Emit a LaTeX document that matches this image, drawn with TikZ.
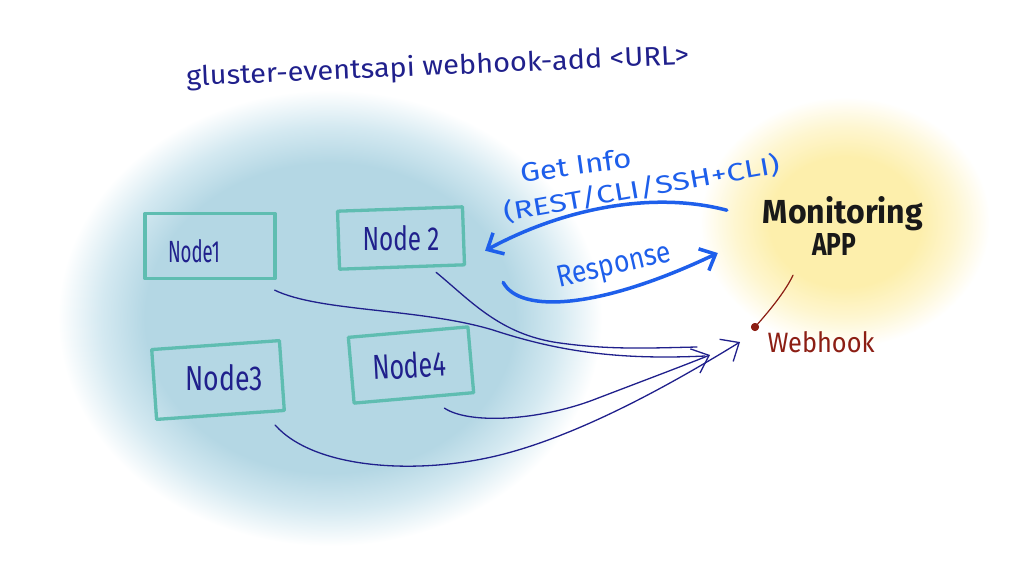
\documentclass[tikz,border=0pt]{standalone}
\usepackage{fontspec}
\setmainfont{Fira Sans}
\usepackage{graphicx}
\usetikzlibrary{arrows.meta}
\definecolor{glowblue}{RGB}{180,215,228}
\definecolor{glowblueb}{RGB}{212,233,241}
\definecolor{glowyellow}{RGB}{253,239,172}
\definecolor{glowyellowb}{RGB}{254,246,208}
\definecolor{tealbox}{RGB}{95,189,177}
\definecolor{navy}{RGB}{32,32,140}
\definecolor{brightblue}{RGB}{30,95,235}
\definecolor{hookred}{RGB}{140,30,20}
\definecolor{ink}{RGB}{25,25,25}
\pgfdeclareradialshading{blueglow}{\pgfpoint{0bp}{0bp}}{color(0bp)=(glowblue); color(17bp)=(glowblue); color(21bp)=(glowblueb); color(25bp)=(white); color(50bp)=(white)}
\pgfdeclareradialshading{yellowglow}{\pgfpoint{0bp}{0bp}}{color(0bp)=(glowyellow); color(13bp)=(glowyellow); color(19bp)=(glowyellowb); color(25bp)=(white); color(50bp)=(white)}
\tikzset{
  box/.style={draw=tealbox, line width=3.3pt, line join=round, inner sep=0pt},
  lbl/.style={anchor=base, inner sep=0pt, text=navy},
  bluetext/.style={anchor=base, inner sep=0pt, text=brightblue},
  wire/.style={draw=navy, line width=1.3pt, line cap=round},
  wirearrow/.style={wire, -{Straight Barb[length=15pt,width=26pt]}},
  bluearrow/.style={draw=brightblue, line width=3.5pt, line cap=round, -{Straight Barb[length=13pt,width=24pt]}},
  hookline/.style={draw=hookred, line width=1.2pt, line cap=round}
}
\begin{document}
\begin{tikzpicture}[x=1pt,y=-1pt]
\useasboundingbox (0,0) rectangle (1024,579);
\fill[white] (0,0) rectangle (1024,579);
% glows
\shade[shading=blueglow] (330,318) ellipse (272 and 228);
\shade[shading=yellowglow] (845,222) ellipse (145 and 125);
% title
\node[lbl, rotate=2.5] (title) at (438,75) {\resizebox{503pt}{21pt}{gluster-eventsapi webhook-add <URL>}};
% node boxes
\node[box, minimum width=130pt, minimum height=65pt] (n1) at (210,246) {};
\node[box, minimum width=125pt, minimum height=58pt, rotate=2] (n2) at (401,238) {};
\node[box, minimum width=128pt, minimum height=70pt, rotate=4] (n3) at (218,380) {};
\node[box, minimum width=120pt, minimum height=66pt, rotate=5] (n4) at (411,365) {};
\node[lbl] (t1) at (194,262) {\resizebox{52pt}{23pt}{Node1}};
\node[lbl] (t2) at (401,250) {\resizebox{77pt}{25pt}{Node 2}};
\node[lbl] (t3) at (224,390) {\resizebox{77pt}{26pt}{Node3}};
\node[lbl, rotate=3] (t4) at (410,378) {\resizebox{74pt}{26pt}{Node4}};
% monitoring app
\node[anchor=base, inner sep=0pt, text=ink] (mon) at (843,223) {\resizebox{160pt}{27pt}{\bfseries Monitoring}};
\node[anchor=base, inner sep=0pt, text=ink] (app) at (834,255) {\resizebox{44pt}{22pt}{\bfseries APP}};
% webhook
\node[circle, fill=hookred, inner sep=0pt, minimum size=8pt] (wh) at (755,327) {};
\node[anchor=base, inner sep=0pt, text=hookred] (whtext) at (821,352) {\resizebox{107pt}{21pt}{Webhook}};
\draw[hookline] (wh.center) .. controls (772,308) and (786,290) .. ([shift={(-41,20)}]app.south);
\node[circle, fill=hookred, inner sep=0pt, minimum size=8pt] at (wh) {};
% blue labels
\node[bluetext, rotate=8] (getinfo) at (577,175) {\resizebox{112pt}{20pt}{Get Info}};
\node[bluetext, rotate=10] (rest) at (643,197) {\resizebox{280pt}{21pt}{(REST/CLI/SSH+CLI)}};
\node[bluetext, rotate=13] (resp) at (616,274) {\resizebox{116pt}{21pt}{Response}};
% blue arrows
\draw[bluearrow] ([shift={(-36,-3)}]mon.west) .. controls (650,190) and (560,210) .. ([shift={(20,15)}]n2.east);
\draw[bluearrow] ([shift={(37,16)}]n2.south east) .. controls (520,314) and (600,309) .. ([shift={(-94,9)}]app.west);
% webhook connectors
\draw[wire] ([shift={(-2,10)}]n1.south east) .. controls (320,312) and (420,308) .. (493,330)
   .. controls (560,352) and (620,360) .. ([shift={(-50,29)}]wh.center);
\draw[wire] ([shift={(-30,6)}]n2.south east) .. controls (470,300) and (500,335) .. (560,343)
   .. controls (610,350) and (650,348) .. ([shift={(-58,20)}]wh.center);
\draw[wirearrow] ([shift={(-31,14)}]n4.south east) .. controls (470,425) and (540,420) .. (593,400)
   .. controls (640,382) and (680,367) .. ([shift={(-45,28)}]wh.center);
\draw[wirearrow] ([shift={(-11,13)}]n3.south east) .. controls (315,470) and (420,475) .. (500,455)
   .. controls (580,435) and (670,385) .. ([shift={(-15,15)}]wh.center);
\end{tikzpicture}
\end{document}
